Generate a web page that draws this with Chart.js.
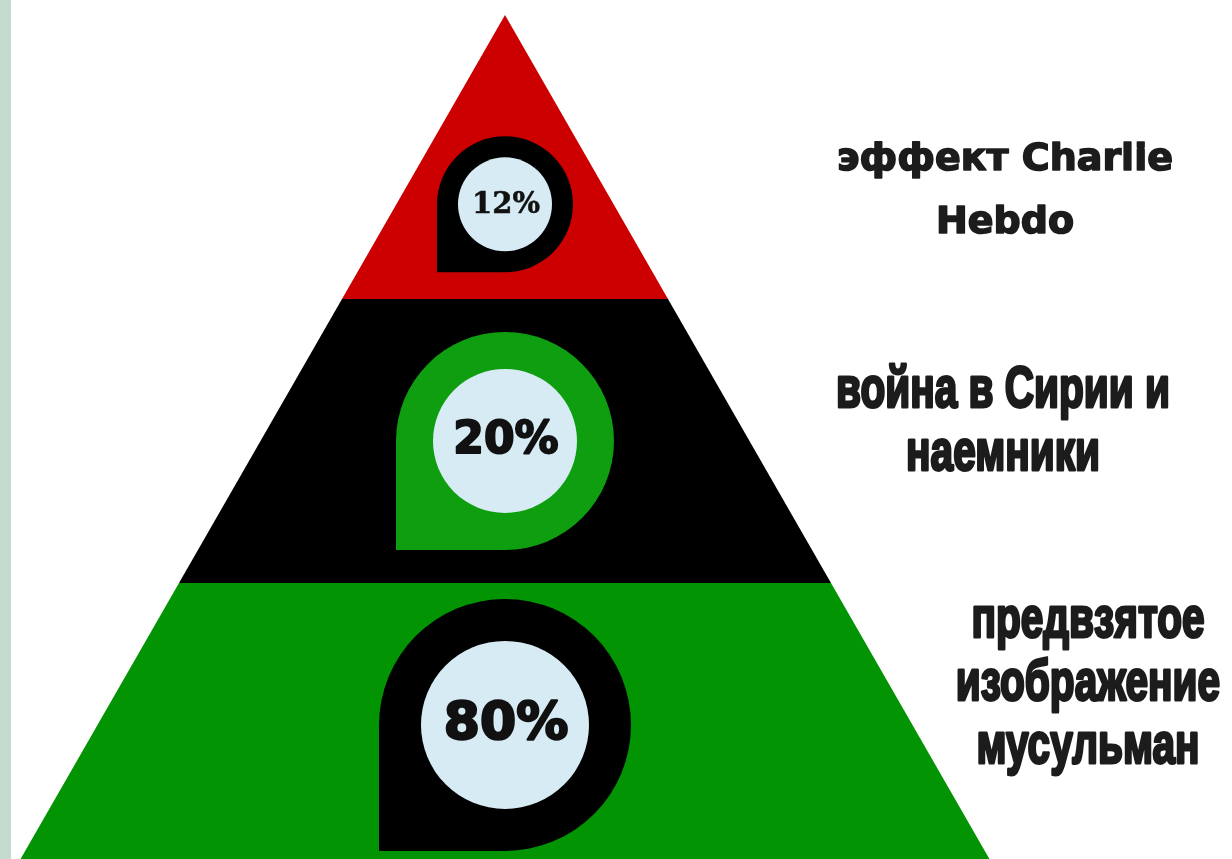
<!DOCTYPE html>
<html>
<head>
  <meta charset="utf-8" />
  <script src="https://cdn.jsdelivr.net/npm/chart.js@4.4.1/dist/chart.umd.min.js"></script>
  <style>
    body{margin:0;background:#fff;overflow:hidden;}
    #wrap{position:relative;width:1232px;height:859px;}
    #strip{position:absolute;left:0;top:0;width:11px;height:859px;background:#c4dccf;}
  </style>
</head>
<body>
<div id="wrap">
  <canvas id="pyramid" width="1232" height="859"></canvas>
  <div id="strip"></div>
</div>

<script>
// layers listed top -> bottom
const layerNames = [
  ['эффект Charlie', 'Hebdo'],
  ['война в Сирии и', 'наемники'],
  ['предвзятое', 'изображение', 'мусульман']
];
const layerShares = [12, 20, 80];

// styling
const layerFill   = ['#cc0000', '#000000', '#029402'];
const markerFill  = ['#000000', '#0e9e10', '#000000'];
const markerHalf  = [68, 109, 126];
const innerRadius = [47, 72, 84];
const innerFill   = '#d6ebf3';
const pctFont     = ['bold 29px "DejaVu Serif"', 'bold 44px "DejaVu Sans"', 'bold 52px "DejaVu Sans"'];
const pctStroke   = [0.5, 2, 2.4];
const nameFont    = ['bold 38px "DejaVu Sans"', 'bold 58px "Liberation Sans"', 'bold 58px "Liberation Sans"'];
const nameSquash  = [1, 0.70, 0.70];
const nameStroke  = [1.6, 3, 3];
const nameX       = [1005, 1003, 1088];
const nameBase    = [170, 407, 637];
const nameGap     = [63, 63, 63];

const N = layerShares.length;
// level of a layer's bottom edge (0 = base of pyramid, N = apex)
const bottomOf = i => N - 1 - i;
// markers: centroid for the triangle tip, mid-height for the trapezoids
const markerLevel = layerShares.map((_, i) => bottomOf(i) + (i === 0 ? 1/3 : 0.5));
const halfWidth = lvl => (N - lvl) / N;

function heavyText(ctx, txt, x, y, w){
  ctx.lineJoin = 'round';
  ctx.lineWidth = w;
  ctx.strokeText(txt, x, y);
  ctx.fillText(txt, x, y);
}

const pyramidPlugin = {
  id: 'pyramid',
  beforeDatasetsDraw(chart){
    const {ctx, scales:{x, y}} = chart;
    ctx.save();
    layerShares.forEach((_, i) => {
      const b = bottomOf(i), t = b + 1;
      ctx.beginPath();
      ctx.moveTo(x.getPixelForValue(-halfWidth(b)), y.getPixelForValue(b));
      ctx.lineTo(x.getPixelForValue(halfWidth(b)),  y.getPixelForValue(b));
      ctx.lineTo(x.getPixelForValue(halfWidth(t)),  y.getPixelForValue(t));
      ctx.lineTo(x.getPixelForValue(-halfWidth(t)), y.getPixelForValue(t));
      ctx.closePath();
      ctx.fillStyle = layerFill[i];
      ctx.fill();
    });
    ctx.restore();
  },
  afterDatasetsDraw(chart){
    const {ctx} = chart;
    const meta = chart.getDatasetMeta(0);
    ctx.save();
    meta.data.forEach((pt, i) => {
      const cx = pt.x, cy = pt.y, s = markerHalf[i];
      // drop-shaped badge: round on three corners, square bottom-left
      ctx.beginPath();
      ctx.moveTo(cx - s, cy + s);
      ctx.lineTo(cx - s, cy);
      ctx.arc(cx, cy, s, Math.PI, Math.PI / 2, false);
      ctx.closePath();
      ctx.fillStyle = markerFill[i];
      ctx.fill();

      ctx.beginPath();
      ctx.arc(cx, cy, innerRadius[i], 0, Math.PI * 2);
      ctx.fillStyle = innerFill;
      ctx.fill();

      ctx.fillStyle = '#111';
      ctx.strokeStyle = '#111';
      ctx.font = pctFont[i];
      ctx.textAlign = 'center';
      ctx.textBaseline = 'middle';
      heavyText(ctx, layerShares[i] + '%', cx + 1, cy + 1, pctStroke[i]);
    });

    ctx.fillStyle = '#1c1c1c';
    ctx.strokeStyle = '#1c1c1c';
    ctx.textAlign = 'center';
    ctx.textBaseline = 'alphabetic';
    layerNames.forEach((lines, i) => {
      ctx.font = nameFont[i];
      lines.forEach((line, k) => {
        ctx.save();
        ctx.translate(nameX[i], nameBase[i] + k * nameGap[i]);
        ctx.scale(nameSquash[i], 1);
        heavyText(ctx, line, 0, 0, nameStroke[i]);
        ctx.restore();
      });
    });
    ctx.restore();
  }
};

new Chart(document.getElementById('pyramid'), {
  type: 'scatter',
  data: {
    datasets: [{
      label: 'share',
      data: layerShares.map((v, i) => ({x: 0, y: markerLevel[i]})),
      pointRadius: 0
    }]
  },
  options: {
    responsive: false,
    animation: false,
    layout: {padding: 0},
    plugins: {legend: {display: false}, tooltip: {enabled: false}},
    scales: {
      x: {display: false, min: -1.0327, max: 1.4867},
      y: {display: false, min: 0.028, max: 3.0528}
    }
  },
  plugins: [pyramidPlugin]
});
</script>
</body>
</html>
